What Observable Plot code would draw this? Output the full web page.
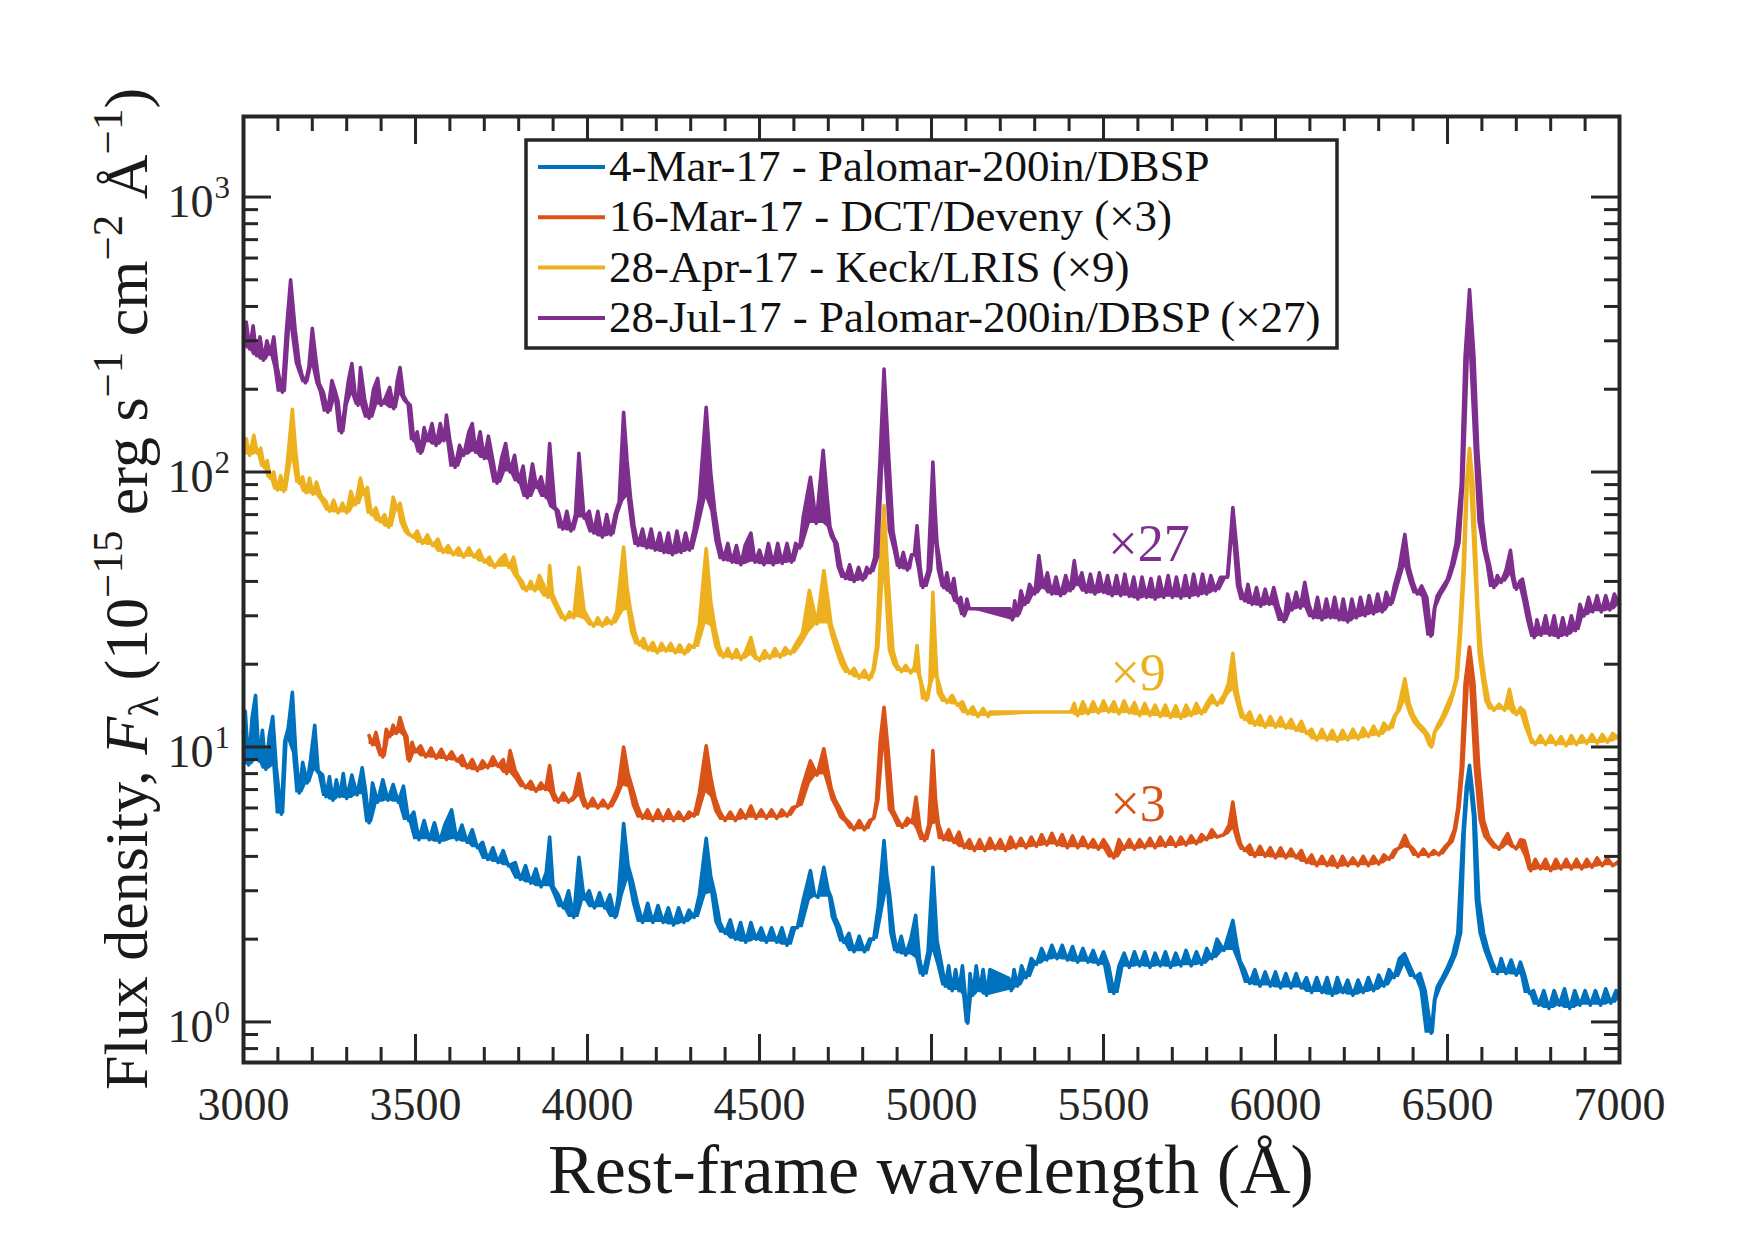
<!DOCTYPE html>
<html><head><meta charset="utf-8">
<script src="https://cdn.jsdelivr.net/npm/d3@7"></script>
<script src="https://cdn.jsdelivr.net/npm/@observablehq/plot@0.6"></script>
<style>html,body{margin:0;padding:0;background:#fff}svg{display:block}</style>
</head><body><div id="chart"></div>
<script>
// ---- data (rest wavelength in Å, flux density in 1e-15 erg/s/cm2/Å, already scaled) ----
const seriesNames = ["4-Mar-17 - Palomar-200in/DBSP","16-Mar-17 - DCT/Deveny (×3)","28-Apr-17 - Keck/LRIS (×9)","28-Jul-17 - Palomar-200in/DBSP (×27)"];
const seriesColors = ["#0072BD","#D95319","#EDB120","#7E2F8E"];
const scaleLabels = ["×27","×9","×3"];
const scaleLabelX = [5514,5520,5520];
const scaleLabelY = [47.6,16.1,5.4];
const scaleLabelColor = ["#7E2F8E","#EDB120","#D95319"];
const xMajorTicks = [3000,3500,4000,4500,5000,5500,6000,6500,7000];
const yMajorTicks = [1,10,100,1000];
const yTickExponents = ["0","1","2","3"];

const mar04 = [[3000,11.2],[3005,13.5],[3015,8.6],[3025,12.8],[3035,15.4],[3045,8.9],[3055,11.5],[3065,8.3],[3075,11.0],[3085,12.9],[3095,8.5],[3110,5.7],[3120,10.5],[3130,11.7],[3142,15.8],[3152,9.5],[3162,6.8],[3172,8.8],[3185,7.4],[3195,9.0],[3207,12.0],[3217,8.2],[3230,7.9],[3240,6.6],[3250,7.8],[3260,6.4],[3270,7.6],[3280,6.6],[3290,8.0],[3300,6.5],[3315,7.9],[3330,6.7],[3345,8.4],[3355,6.9],[3365,5.3],[3375,7.4],[3390,6.3],[3405,7.6],[3420,6.4],[3435,7.3],[3450,6.3],[3465,7.2],[3480,5.4],[3495,5.8],[3510,4.6],[3525,5.4],[3540,4.6],[3555,5.3],[3570,4.5],[3585,5.2],[3605,5.9],[3620,4.6],[3635,5.2],[3650,4.5],[3665,5.0],[3680,4.3],[3695,4.5],[3710,3.9],[3725,4.3],[3740,3.8],[3755,4.2],[3770,3.7],[3790,3.8],[3805,3.3],[3820,3.7],[3835,3.2],[3850,3.6],[3865,3.1],[3880,3.5],[3890,4.7],[3900,3.1],[3915,2.9],[3930,2.6],[3945,3.0],[3960,2.4],[3975,3.97],[3990,2.8],[4005,3.0],[4020,2.6],[4035,2.95],[4050,2.6],[4065,2.9],[4080,2.4],[4090,2.9],[4105,5.27],[4118,3.7],[4130,3.27],[4145,2.7],[4160,2.3],[4175,2.7],[4190,2.3],[4205,2.65],[4220,2.3],[4235,2.6],[4250,2.25],[4265,2.6],[4280,2.3],[4295,2.55],[4310,2.4],[4325,2.9],[4345,4.65],[4358,3.4],[4370,2.93],[4385,2.3],[4400,2.1],[4415,2.35],[4430,2.0],[4445,2.3],[4460,1.95],[4475,2.3],[4490,2.0],[4505,2.2],[4520,1.95],[4535,2.2],[4550,1.95],[4565,2.2],[4580,1.9],[4595,2.2],[4610,2.2],[4627,2.77],[4648,3.55],[4660,2.9],[4670,2.84],[4687,3.65],[4700,3.0],[4708,2.84],[4720,2.4],[4733,2.21],[4745,1.95],[4760,2.1],[4775,1.8],[4790,2.05],[4805,1.8],[4820,2.0],[4832,2.0],[4845,2.61],[4862,4.57],[4870,3.4],[4878,2.93],[4890,2.1],[4900,1.8],[4912,2.05],[4925,1.75],[4940,2.0],[4954,2.44],[4965,1.7],[4975,1.48],[4990,1.8],[5004,3.65],[5016,1.98],[5030,1.6],[5040,1.35],[5050,1.6],[5060,1.3],[5070,1.55],[5080,1.3],[5090,1.6],[5098,1.25],[5105,0.99],[5112,1.5],[5120,1.25],[5130,1.6],[5140,1.3],[5150,1.55],[5160,1.25],[5170,1.55],[5225,1.44],[5232,1.3],[5240,1.55],[5250,1.35],[5262,1.6],[5275,1.45],[5290,1.7],[5305,1.62],[5320,1.85],[5335,1.68],[5350,1.9],[5365,1.7],[5380,1.9],[5395,1.68],[5410,1.88],[5425,1.65],[5440,1.85],[5455,1.65],[5470,1.82],[5485,1.62],[5500,1.8],[5515,1.6],[5530,1.27],[5545,1.6],[5560,1.78],[5575,1.58],[5590,1.8],[5605,1.6],[5620,1.8],[5635,1.58],[5650,1.78],[5665,1.6],[5680,1.8],[5695,1.58],[5710,1.78],[5725,1.6],[5740,1.82],[5755,1.6],[5770,1.8],[5785,1.62],[5800,1.85],[5815,1.7],[5830,2.0],[5850,1.82],[5876,2.34],[5888,1.9],[5897,1.67],[5910,1.55],[5925,1.38],[5940,1.55],[5955,1.35],[5970,1.52],[5985,1.35],[6000,1.52],[6015,1.33],[6030,1.5],[6045,1.33],[6060,1.5],[6075,1.33],[6090,1.45],[6105,1.28],[6120,1.45],[6135,1.28],[6150,1.45],[6165,1.25],[6180,1.45],[6195,1.28],[6210,1.42],[6225,1.25],[6240,1.42],[6255,1.28],[6270,1.45],[6285,1.3],[6300,1.48],[6315,1.35],[6330,1.55],[6345,1.45],[6360,1.7],[6375,1.77],[6390,1.6],[6405,1.45],[6420,1.5],[6435,1.3],[6453,0.91],[6462,1.2],[6470,1.34],[6485,1.45],[6500,1.58],[6515,1.75],[6530,2.1],[6545,4.85],[6555,7.2],[6564,8.57],[6572,7.0],[6580,5.56],[6591,2.77],[6605,2.1],[6618,1.82],[6630,1.65],[6645,1.5],[6656,1.7],[6670,1.5],[6685,1.68],[6700,1.48],[6712,1.65],[6723,1.5],[6738,1.27],[6750,1.3],[6765,1.15],[6780,1.3],[6795,1.12],[6810,1.3],[6825,1.15],[6840,1.32],[6855,1.12],[6870,1.3],[6885,1.15],[6900,1.3],[6915,1.15],[6930,1.3],[6945,1.15],[6960,1.32],[6975,1.17],[6990,1.3],[7000,1.22]];

const mar16x3 = [[3365,11.0],[3375,10.2],[3385,11.3],[3395,10.0],[3405,9.2],[3415,11.6],[3425,10.9],[3435,12.0],[3445,11.2],[3455,12.8],[3465,11.6],[3475,10.9],[3482,8.9],[3490,10.4],[3500,9.6],[3515,10.1],[3530,9.2],[3545,9.9],[3560,9.1],[3575,9.8],[3590,9.0],[3605,9.6],[3620,8.9],[3635,9.3],[3650,8.4],[3665,9.0],[3680,8.2],[3695,8.9],[3710,8.4],[3725,9.2],[3740,8.5],[3755,9.0],[3765,8.0],[3775,9.7],[3790,8.2],[3805,7.6],[3820,7.1],[3835,7.5],[3850,6.9],[3865,7.4],[3878,7.0],[3890,8.56],[3902,6.8],[3915,6.3],[3930,6.8],[3945,6.3],[3960,6.6],[3975,8.0],[3988,6.6],[4000,6.0],[4015,6.5],[4030,6.0],[4045,6.4],[4060,6.0],[4075,6.5],[4090,7.2],[4105,10.0],[4118,8.0],[4130,7.1],[4145,6.1],[4160,5.5],[4175,5.9],[4190,5.4],[4205,5.9],[4220,5.4],[4235,5.9],[4250,5.4],[4265,5.8],[4280,5.4],[4295,5.8],[4310,5.6],[4325,6.8],[4345,10.1],[4358,7.8],[4370,6.57],[4385,5.8],[4400,5.4],[4415,5.8],[4430,5.4],[4445,5.9],[4460,5.5],[4475,6.1],[4490,5.5],[4505,5.9],[4520,5.5],[4535,5.9],[4550,5.5],[4565,5.9],[4580,5.6],[4595,6.0],[4610,6.1],[4627,7.35],[4648,8.9],[4667,7.9],[4687,9.85],[4698,8.3],[4708,7.1],[4720,6.4],[4733,6.0],[4748,5.5],[4762,5.3],[4775,5.0],[4790,5.4],[4805,5.0],[4820,5.4],[4832,5.5],[4840,6.39],[4851,10.56],[4862,13.95],[4874,9.7],[4888,5.9],[4900,5.5],[4915,5.1],[4930,5.5],[4944,5.3],[4955,6.57],[4967,5.0],[4980,4.57],[4992,5.2],[5004,9.7],[5012,6.4],[5020,5.26],[5035,4.6],[5050,5.0],[5065,4.5],[5080,4.9],[5095,4.3],[5110,4.6],[5125,4.2],[5140,4.6],[5155,4.2],[5170,4.65],[5185,4.25],[5200,4.6],[5215,4.2],[5230,4.7],[5245,4.3],[5260,4.65],[5275,4.3],[5290,4.7],[5305,4.35],[5320,4.8],[5335,4.4],[5350,4.85],[5365,4.4],[5380,4.8],[5395,4.3],[5410,4.75],[5425,4.3],[5440,4.7],[5455,4.3],[5470,4.6],[5485,4.25],[5500,4.6],[5515,4.3],[5530,3.95],[5545,4.6],[5560,4.25],[5575,4.6],[5590,4.25],[5605,4.6],[5620,4.3],[5635,4.65],[5650,4.3],[5665,4.7],[5680,4.35],[5695,4.7],[5710,4.35],[5725,4.7],[5740,4.4],[5755,4.75],[5770,4.45],[5785,4.8],[5800,4.6],[5815,5.0],[5830,4.7],[5850,4.8],[5865,5.2],[5876,6.3],[5888,5.0],[5898,4.45],[5910,4.2],[5925,4.4],[5940,4.0],[5955,4.35],[5970,4.0],[5985,4.3],[6000,3.95],[6015,4.3],[6030,3.95],[6045,4.25],[6060,3.95],[6075,4.2],[6090,3.8],[6105,4.05],[6120,3.7],[6135,4.0],[6150,3.7],[6165,4.0],[6180,3.65],[6195,4.0],[6210,3.7],[6225,3.95],[6240,3.7],[6255,4.0],[6270,3.7],[6285,4.0],[6300,3.75],[6315,4.05],[6330,3.9],[6345,4.2],[6360,4.3],[6376,4.77],[6388,4.4],[6400,4.26],[6415,4.0],[6430,4.25],[6445,4.0],[6460,4.2],[6475,4.05],[6490,4.3],[6505,4.5],[6520,5.0],[6530,6.0],[6540,8.4],[6551,17],[6564,23.1],[6577,17],[6591,8.4],[6605,5.4],[6620,4.7],[6634,4.45],[6650,4.25],[6662,4.55],[6675,4.84],[6688,4.4],[6700,4.26],[6712,4.6],[6723,4.57],[6735,4.0],[6742,3.55],[6755,3.9],[6770,3.6],[6785,3.9],[6800,3.55],[6815,3.9],[6830,3.6],[6845,3.9],[6860,3.6],[6875,3.9],[6890,3.6],[6905,3.9],[6920,3.65],[6935,3.95],[6950,3.7],[6965,3.95],[6980,3.7],[7000,3.85]];

const apr28x9 = [[3000,120],[3008,132],[3018,115],[3030,136],[3040,117],[3050,122],[3060,104],[3069,110],[3078,95],[3088,100],[3098,86],[3108,97],[3117,85],[3128,110],[3142,169],[3152,118],[3162,91],[3172,96],[3182,84],[3192,95],[3202,83],[3212,92],[3225,82],[3240,78],[3250,72],[3262,79],[3275,71],[3288,77],[3300,71],[3312,85],[3325,76],[3340,95],[3350,83],[3360,88],[3372,70],[3385,74],[3397,66],[3410,70],[3422,63],[3435,81],[3447,73],[3455,77],[3468,65],[3480,60],[3492,58],[3505,61],[3520,55],[3535,59],[3550,54],[3565,57],[3580,51],[3595,54],[3610,50],[3625,53],[3640,49],[3655,53],[3670,49],[3685,52],[3700,47],[3715,49],[3730,45],[3745,48],[3760,50],[3772,45],[3785,49],[3797,42],[3810,40],[3822,37],[3835,40],[3847,37],[3860,42],[3872,39],[3885,35],[3890,45.7],[3898,36],[3910,33.3],[3922,31],[3935,29],[3948,31],[3960,29.5],[3975,45],[3990,31.4],[4005,29],[4018,27.5],[4030,29.5],[4043,27.5],[4056,29.5],[4070,28],[4085,31],[4105,53.3],[4115,38],[4125,31.4],[4138,26],[4150,23.5],[4163,24.8],[4176,22.5],[4190,24],[4203,22],[4215,23.8],[4228,22.3],[4242,23.8],[4255,22.0],[4268,23.5],[4282,21.8],[4295,23.5],[4310,23],[4325,28],[4345,52.7],[4358,34],[4370,27.3],[4383,23],[4395,21.2],[4408,22.8],[4420,21],[4433,22.6],[4446,20.8],[4460,22.3],[4475,25],[4488,21.5],[4500,20.6],[4515,22.4],[4530,21.0],[4545,22.8],[4560,21.2],[4575,23.0],[4590,21.8],[4605,23.6],[4625,26],[4645,37.1],[4667,28.0],[4687,43.8],[4698,35],[4708,28],[4720,25],[4733,22.4],[4748,20],[4762,18.5],[4775,19.3],[4790,17.8],[4805,19.0],[4818,17.6],[4830,19],[4840,23.1],[4851,46.6],[4862,75.5],[4874,40.3],[4888,22.4],[4900,19.8],[4913,18.8],[4925,19.8],[4940,18.6],[4950,19.5],[4958,23.4],[4965,18.5],[4971,17],[4985,14.8],[4995,17],[5004,36.5],[5012,22],[5016,18],[5030,15.6],[5045,14.5],[5060,15.4],[5075,14.2],[5090,14.6],[5105,13.2],[5120,14.0],[5135,12.9],[5150,13.8],[5165,12.9],[5170,13.4],[5405,13.4],[5415,14.4],[5425,13.0],[5440,14.6],[5455,13.2],[5470,14.6],[5485,13.3],[5500,14.7],[5515,13.4],[5530,14.6],[5545,13.2],[5560,14.7],[5575,13.3],[5590,14.5],[5605,13.0],[5620,14.4],[5635,13.0],[5650,14.2],[5665,12.9],[5680,14.2],[5695,12.8],[5710,14.1],[5725,12.7],[5740,14.2],[5755,13.0],[5770,14.4],[5785,13.2],[5800,14.4],[5815,15.4],[5830,14.2],[5850,15.4],[5863,17],[5876,21.9],[5888,16],[5898,14.0],[5910,12.6],[5925,13.4],[5940,12.0],[5955,13.0],[5970,11.8],[5985,12.9],[6000,11.8],[6015,12.8],[6030,11.7],[6045,12.6],[6060,11.5],[6075,12.4],[6090,11.2],[6105,11.6],[6120,10.6],[6135,11.6],[6150,10.6],[6165,11.5],[6180,10.5],[6195,11.5],[6210,10.6],[6225,11.6],[6240,10.7],[6255,11.7],[6270,10.9],[6285,11.9],[6300,11.0],[6315,12.2],[6330,11.6],[6345,12.9],[6355,13.5],[6366,15.5],[6376,17.7],[6388,14.5],[6400,13.1],[6415,12.2],[6432,11.6],[6445,11.0],[6453,10.0],[6462,11.3],[6470,11.9],[6485,12.9],[6500,14.3],[6515,15.8],[6525,17.7],[6535,26],[6545,43],[6555,91],[6564,122],[6574,91],[6582,50],[6588,32],[6598,22],[6608,17.7],[6620,14.6],[6635,13.6],[6650,14.3],[6666,13.6],[6680,16.2],[6690,14.2],[6700,13.1],[6712,13.9],[6723,13.5],[6735,11.8],[6742,10.8],[6755,10.2],[6770,11.0],[6785,10.2],[6800,11.0],[6815,10.2],[6830,10.9],[6845,10.1],[6860,11.0],[6875,10.2],[6890,11.0],[6905,10.3],[6920,11.1],[6935,10.3],[6950,11.1],[6965,10.4],[6980,11.2],[7000,10.7]];

const jul28x27 = [[3000,308],[3008,351],[3018,280],[3028,340],[3038,265],[3048,310],[3058,255],[3068,300],[3078,268],[3088,310],[3098,240],[3113,195],[3125,330],[3137,500],[3150,330],[3162,248],[3170,225],[3180,211],[3190,240],[3200,333],[3210,260],[3220,210],[3232,195],[3245,165],[3257,215],[3265,200],[3275,180],[3285,139],[3295,175],[3305,215],[3315,248],[3325,190],[3333,175],[3340,240],[3352,185],[3365,157],[3378,200],[3390,219],[3400,175],[3412,185],[3425,203],[3437,170],[3447,215],[3455,240],[3465,190],[3475,180],[3485,175],[3495,130],[3505,140],[3515,117],[3525,145],[3535,130],[3548,150],[3560,125],[3572,150],[3583,130],[3590,161],[3600,130],[3615,104],[3628,125],[3640,115],[3655,140],[3665,150],[3675,118],[3688,140],[3700,112],[3712,135],[3725,110],[3737,91],[3750,112],[3762,127],[3775,100],[3788,115],[3800,92],[3813,105],[3825,80.7],[3840,107],[3852,88],[3865,96],[3880,80.7],[3890,127],[3905,74.5],[3915,72],[3928,62],[3940,72],[3952,61],[3965,70],[3975,117],[3990,68],[4005,72],[4018,60],[4030,72],[4043,58],[4056,70],[4068,59],[4080,70],[4092,78],[4105,165],[4115,110],[4125,81],[4135,64],[4147,54],[4160,62],[4172,53],[4185,62],[4197,52],[4210,60],[4222,51],[4235,60],[4247,50],[4260,61],[4272,51],[4285,60],[4297,52],[4310,62],[4325,80],[4345,172],[4358,100],[4370,72],[4383,56],[4395,48],[4408,55],[4420,47],[4433,54],[4446,46],[4458,54],[4475,60],[4487,47],[4500,52],[4513,46],[4526,55],[4540,46],[4553,55],[4566,46.5],[4580,55],[4593,47],[4605,55],[4617,53],[4627,68.5],[4648,95.7],[4665,65],[4685,120],[4697,80],[4705,63],[4715,58],[4725,55],[4737,45],[4750,41],[4762,46],[4775,40],[4788,45],[4800,40.5],[4812,45],[4822,43],[4835,49],[4850,108],[4862,237],[4874,123],[4888,61],[4898,52],[4907,45],[4918,51],[4930,44],[4942,50],[4950,50],[4958,63.8],[4967,45],[4975,38],[4990,43.7],[5004,108.6],[5010,75],[5016,55],[5028,44],[5035,38],[5045,43],[5055,36.5],[5065,41],[5075,33.5],[5085,35],[5095,30],[5103,34.5],[5110,31.8],[5228,31.8],[5235,29],[5242,34],[5250,30],[5260,37],[5272,33],[5285,39],[5300,36],[5312,49.7],[5325,38],[5337,43],[5350,36],[5362,41.5],[5375,35.5],[5390,42],[5403,37],[5415,47.6],[5425,39],[5437,43],[5450,36.5],[5462,42.5],[5475,36],[5488,43],[5500,36.5],[5512,42],[5525,35.5],[5538,42],[5550,35.5],[5562,42.5],[5575,35.3],[5588,41.5],[5600,34.5],[5612,41.5],[5625,35],[5638,41],[5650,34.5],[5662,41.5],[5675,35],[5688,42],[5700,35],[5712,41.5],[5725,34.8],[5738,42],[5750,35],[5762,42.5],[5775,35.5],[5788,42.5],[5800,36],[5812,42],[5825,37],[5840,41.4],[5860,41.4],[5868,55],[5876,74.3],[5886,55],[5897,38.4],[5910,34],[5920,39],[5932,33],[5945,38],[5957,32.5],[5970,37.5],[5982,33],[5995,38],[6008,32.5],[6025,28.6],[6035,36],[6048,31.5],[6060,36.5],[6072,32],[6085,39.7],[6097,33],[6110,29.5],[6122,35],[6135,29],[6148,34.5],[6160,29.5],[6172,35],[6185,29],[6197,34.5],[6210,28.5],[6222,34.5],[6235,29.5],[6247,35],[6260,30],[6272,35.5],[6285,30.5],[6297,36],[6310,31],[6322,36.5],[6335,33],[6345,38.4],[6360,45],[6376,59.3],[6388,45],[6400,39.7],[6412,36],[6425,38.5],[6440,35],[6452,25.3],[6462,32],[6470,35.4],[6485,38],[6500,40.8],[6512,46],[6525,55],[6540,90],[6551,261],[6564,461],[6577,261],[6588,120],[6602,66],[6612,52],[6622,46],[6635,38],[6645,42],[6656,39.7],[6670,44],[6683,51.9],[6692,42],[6700,37.5],[6710,40],[6718,40.8],[6730,34],[6742,28.6],[6752,25],[6760,29],[6772,25.5],[6785,30],[6797,25.5],[6810,30],[6822,25],[6835,29.5],[6847,25.5],[6860,30],[6872,26.5],[6885,33],[6897,30],[6910,35],[6922,31],[6935,35.5],[6947,31],[6960,35.5],[6972,31.5],[6985,36],[7000,33]];

// ---- derived helpers ----
const spectra = [mar04, mar16x3, apr28x9, jul28x27];
const yDomain = [0.712, 1963];
const xMinorTicks = d3.range(3000, 7001, 100).filter(v => v % 500 !== 0);
const yMinorTicks = [];
[0.1,1,10,100,1000].forEach(dec => [2,3,4,5,6,7,8,9].forEach(m => yMinorTicks.push(+(m*dec).toPrecision(3))));
const yMinorIn = yMinorTicks.filter(v => v >= yDomain[0] && v <= yDomain[1]);
const annotations = scaleLabels.map((t,i) => ({t, x: scaleLabelX[i], y: scaleLabelY[i], c: scaleLabelColor[i]}));
const yTicksData = yMajorTicks.map((v,i) => ({v, e: yTickExponents[i]}));

const W = 1755, H = 1240, mL = 243, mR = 136, mT = 116, mB = 178;
const fw = W - mL - mR, fh = H - mT - mB;
const axisColor = "#262626";
const FONT = "'Liberation Serif', 'Times New Roman', serif";
const major = 28, minor = 15, tw = 3;

// each spectrum: a noise-band fill (between the trace and its local minimum) plus the trace itself
const spectrumMarks = [];
spectra.forEach((s, i) => {
  if (typeof Plot.window === "function") {
    try {
      spectrumMarks.push(Plot.areaY(s, Plot.map({y1: Plot.window({k: 3, reduce: "min"})},
        {x: d => d[0], y1: d => d[1], y2: d => d[1], fill: seriesColors[i]})));
    } catch (e) {}
  }
  spectrumMarks.push(Plot.line(s, {x: d => d[0], y: d => d[1], stroke: seriesColors[i], strokeWidth: 3.6, strokeLinejoin: "round"}));
});

const chart = Plot.plot({
  width: W, height: H,
  marginLeft: mL, marginRight: mR, marginTop: mT, marginBottom: mB,
  style: {fontFamily: FONT, background: "#fff", color: axisColor},
  x: {domain: [3000, 7000], axis: null},
  y: {type: "log", domain: yDomain, axis: null},
  marks: [
    ...spectrumMarks,
    // ticks (inward, all four sides)
    Plot.tickX(xMajorTicks, {x: d => d, insetTop: fh - major, stroke: axisColor, strokeWidth: tw}),
    Plot.tickX(xMinorTicks, {x: d => d, insetTop: fh - minor, stroke: axisColor, strokeWidth: tw}),
    Plot.tickX(xMajorTicks, {x: d => d, insetBottom: fh - major, stroke: axisColor, strokeWidth: tw}),
    Plot.tickX(xMinorTicks, {x: d => d, insetBottom: fh - minor, stroke: axisColor, strokeWidth: tw}),
    Plot.tickY(yMajorTicks, {y: d => d, insetRight: fw - major, stroke: axisColor, strokeWidth: tw}),
    Plot.tickY(yMinorIn, {y: d => d, insetRight: fw - minor, stroke: axisColor, strokeWidth: tw}),
    Plot.tickY(yMajorTicks, {y: d => d, insetLeft: fw - major, stroke: axisColor, strokeWidth: tw}),
    Plot.tickY(yMinorIn, {y: d => d, insetLeft: fw - minor, stroke: axisColor, strokeWidth: tw}),
    Plot.frame({stroke: axisColor, strokeWidth: 4}),
    // tick labels
    Plot.text(xMajorTicks, {x: d => d, text: d => String(d), frameAnchor: "bottom", dy: 57, lineAnchor: "bottom", fontSize: 46, fill: axisColor}),
    Plot.text(yTicksData, {y: "v", text: () => "10", frameAnchor: "left", dx: -30, dy: 20, textAnchor: "end", lineAnchor: "bottom", fontSize: 46, fill: axisColor}),
    Plot.text(yTicksData, {y: "v", text: "e", frameAnchor: "left", dx: -29, dy: 1, textAnchor: "start", lineAnchor: "bottom", fontSize: 31, fill: axisColor}),
    // scale annotations
    Plot.text(annotations, {x: "x", y: "y", text: "t", fill: "c", fontSize: 52, textAnchor: "start", lineAnchor: "bottom"})
  ]
});

document.getElementById("chart").appendChild(chart);
const svg = d3.select(chart);

// x-axis title
svg.append("text").attr("x", mL + fw/2).attr("y", 1193).attr("text-anchor", "middle")
  .style("font-family", FONT).style("font-size", "70px").attr("fill", "#1a1a1a")
  .text("Rest-frame wavelength (Å)");

// y-axis title with sub/superscripts
const yt = svg.append("text").attr("transform", `translate(147,${mT + fh/2}) rotate(-90)`)
  .attr("text-anchor", "middle").style("font-family", FONT).style("font-size", "62px").attr("fill", "#1a1a1a");
const parts = [
  {t: "Flux density, "}, {t: "F", it: true}, {t: "λ", sub: true}, {t: " (10"}, {t: "−15", sup: true},
  {t: " erg s"}, {t: "−1", sup: true}, {t: " cm"}, {t: "−2", sup: true}, {t: " Å"}, {t: "−1", sup: true}, {t: ")"}
];
let shift = 0;
parts.forEach(p => {
  const ts = yt.append("tspan").text(p.t);
  let target = p.sup ? -25 : p.sub ? 11 : 0;
  ts.attr("dy", target - shift); shift = target;
  if (p.sup || p.sub) ts.style("font-size", "43px");
  if (p.it) ts.style("font-style", "italic");
});

// legend
const lg = svg.append("g");
lg.append("rect").attr("x", 526).attr("y", 140).attr("width", 811).attr("height", 208)
  .attr("fill", "#fff").attr("stroke", axisColor).attr("stroke-width", 3.5);
seriesNames.forEach((name, i) => {
  const cy = 167 + i * 50.3;
  lg.append("line").attr("x1", 538).attr("x2", 605).attr("y1", cy).attr("y2", cy)
    .attr("stroke", seriesColors[i]).attr("stroke-width", 4);
  lg.append("text").attr("x", 609).attr("y", cy + 14).attr("text-anchor", "start")
    .style("font-family", FONT).style("font-size", "45px").attr("fill", "#111").text(name);
});
</script>
</body></html>
